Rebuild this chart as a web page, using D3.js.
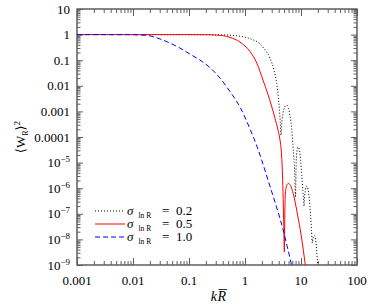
<!DOCTYPE html>
<html>
<head>
<meta charset="utf-8">
<script src="https://cdn.jsdelivr.net/npm/d3@7"></script>
<style>
  body { margin: 0; background: #fff; }
  svg text { font-family: "Liberation Serif", "DejaVu Serif", serif; fill: #000; }
</style>
</head>
<body>
<svg width="390" height="307"></svg>
<script>
// sigma_lnR = 0.2 (dotted)
const kDot = [0.001, 0.1, 0.3, 0.471, 0.663, 0.932, 1.407, 1.853, 2.122, 2.795, 3.295, 3.683, 3.932, 4.098, 4.271, 4.395,
  4.541, 4.771, 5.075, 5.51, 5.98, 6.36, 6.82, 7.14, 7.44, 7.75, 7.98,
  8.21, 8.48, 8.84, 9.32, 9.80, 10.33, 10.77, 11.13, 11.31,
  11.60, 12.03, 12.69, 13.34, 14.07, 14.78, 15.40, 15.91,
  16.38, 17.28, 18.15, 18.92, 19.47, 19.95];
const wDot = [1, 0.998, 0.982, 0.96, 0.915, 0.82, 0.62, 0.44, 0.31, 0.12, 0.041, 0.0124, 0.00372, 0.00135, 3.49e-4, 1.19e-4,
  3.82e-4, 8.6e-4, 1.41e-3, 1.76e-3, 1.35e-3, 6.55e-4, 2.04e-4, 5.78e-5, 1.64e-5, 3.25e-6, 4.5e-7,
  1.05e-5, 2.81e-5, 4.03e-5, 3.36e-5, 1.37e-5, 3.25e-6, 8.4e-7, 3.43e-7, 2.0e-7,
  4.9e-7, 9.2e-7, 1.21e-6, 9.2e-7, 3.75e-7, 9.7e-8, 2.31e-8, 7.2e-9,
  1.12e-8, 1.41e-8, 1.03e-8, 4.6e-9, 1.86e-9, 7.6e-10];

// sigma_lnR = 0.5 (solid red)
const kRed = [0.001, 0.1, 0.2, 0.316, 0.54, 0.815, 1.23, 1.64, 2.096, 2.58, 2.91, 3.43, 3.885, 4.22, 4.43, 4.58, 4.71, 4.83, 4.93, 5.04,
  5.14, 5.24, 5.40, 5.55, 5.99, 6.63, 7.59, 8.73, 10.0, 11.0, 12.0];
const wRed = [1, 0.997, 0.99, 0.956, 0.778, 0.509, 0.217, 0.0736, 0.0167, 0.00453, 0.00193, 5.47e-4, 1.86e-4, 7.57e-5, 3.08e-5, 9.5e-6, 2.07e-6, 2.19e-7, 3.6e-8, 3.2e-9,
  8.9e-8, 5.9e-7, 1.0e-6, 1.32e-6, 1.54e-6, 1.15e-6, 4.1e-7, 8.5e-8, 1.6e-8, 3.8e-9, 9e-10];

// sigma_lnR = 1.0 (dashed blue)
const kBlue = [0.001, 0.00883, 0.0133, 0.0201, 0.0303, 0.0458, 0.069, 0.104, 0.157, 0.237, 0.358, 0.540, 0.815, 1.23, 1.64,
  2.01, 2.58, 3.43, 4.22, 4.97, 5.62, 6.36, 6.9];
const wBlue = [1, 0.995, 0.97, 0.89, 0.679, 0.466, 0.297, 0.173, 0.101, 0.0514, 0.02, 0.00593, 0.00147, 2.04e-4, 4.22e-5,
  1.15e-5, 2.07e-6, 2.86e-7, 6.5e-8, 1.76e-8, 5.7e-9, 1.86e-9, 8.3e-10];

const xTicks = [0.001, 0.01, 0.1, 1, 10, 100];
const xTickLabels = ["0.001", "0.01", "0.1", "1", "10", "100"];
const yTicks = [1e-9, 1e-8, 1e-7, 1e-6, 1e-5, 1e-4, 0.001, 0.01, 0.1, 1, 10];
const yTickLabels = ["10^−9", "10^−8", "10^−7", "10^−6", "10^−5", "0.0001", "0.001", "0.01", "0.1", "1", "10"];
const legendValues = ["0.2", "0.5", "1.0"];

// Plot sizes
const W = 390, H = 307;
const margin = { l: 77, r: 33, t: 9, b: 42 };
const axisColor = "#5e5e5e";

const svg = d3.select("svg");

const x = d3.scaleLog().domain([0.001, 100]).range([margin.l, W - margin.r]);
const y = d3.scaleLog().domain([1e-9, 10]).range([H - margin.b, margin.t]);

const minorsOf = majors => majors.slice(0, -1).flatMap(d => d3.range(2, 10).map(m => d * m));

// ticks on all four sides, pointing inward
function ticks(axisFn, scale, translate, majors, majorLen, minorLen) {
  const g = svg.append("g").attr("transform", `translate(${translate})`);
  g.append("g").call(axisFn(scale).tickValues(minorsOf(majors)).tickSize(minorLen).tickFormat(""));
  g.append("g").call(axisFn(scale).tickValues(majors).tickSize(majorLen).tickFormat(""));
  g.selectAll(".domain").remove();
  g.selectAll("line").attr("stroke", axisColor).attr("stroke-width", 1);
}
const x0 = margin.l, x1 = W - margin.r, y0 = margin.t, y1 = H - margin.b;
ticks(d3.axisTop, x, `0,${y1}`, xTicks, 7, 4);
ticks(d3.axisBottom, x, `0,${y0}`, xTicks, 7, 4);
ticks(d3.axisRight, y, `${x0},0`, yTicks, 6, 3.5);
ticks(d3.axisLeft, y, `${x1},0`, yTicks, 6, 3.5);

svg.append("rect")
  .attr("x", x0).attr("y", y0)
  .attr("width", x1 - x0).attr("height", y1 - y0)
  .attr("fill", "none").attr("stroke", axisColor).attr("stroke-width", 1.5);

// tick labels
svg.append("g").selectAll("text")
  .data(xTicks)
  .enter()
  .append("text")
    .attr("x", d => x(d))
    .attr("y", 285)
    .attr("text-anchor", "middle")
    .attr("font-size", 13)
    .text((d, i) => xTickLabels[i]);

svg.append("g").selectAll("text")
  .data(yTicks)
  .enter()
  .append("text")
    .attr("x", 70)
    .attr("y", d => y(d) + 4.5)
    .attr("text-anchor", "end")
    .attr("font-size", 13)
    .each(function(d, i) {
      const parts = yTickLabels[i].split("^");
      const t = d3.select(this);
      t.append("tspan").text(parts[0]);
      if (parts[1]) t.append("tspan").attr("font-size", 9).attr("dy", -5).text(parts[1]);
    });

// axis titles
const yt = svg.append("text")
  .attr("transform", `translate(25, ${(y0 + y1) / 2}) rotate(-90)`)
  .attr("text-anchor", "middle")
  .attr("font-size", 13);
yt.append("tspan").text("⟨W");
yt.append("tspan").attr("font-size", 8).attr("dy", 3).text("R");
yt.append("tspan").attr("dy", -3).text("⟩");
yt.append("tspan").attr("font-size", 9).attr("dy", -5).text("2");

const xc = (x0 + x1) / 2;
svg.append("text").attr("x", xc).attr("y", 301).attr("text-anchor", "end")
  .attr("font-size", 14).attr("font-style", "italic").text("k");
const rT = svg.append("text").attr("x", xc + 0.5).attr("y", 301)
  .attr("font-size", 14).attr("font-style", "italic").text("R");
const rw = rT.node().getComputedTextLength();
svg.append("line")
  .attr("x1", xc + 1.5).attr("x2", xc + rw + 1.5)
  .attr("y1", 289.5).attr("y2", 289.5)
  .attr("stroke", "#000").attr("stroke-width", 0.8);

// curves
svg.append("clipPath").attr("id", "plot")
  .append("rect").attr("x", x0).attr("y", y0).attr("width", x1 - x0).attr("height", y1 - y0);

const line = d3.line()
  .x(d => x(d[0]))
  .y(d => y(d[1]))
  .curve(d3.curveMonotoneX);

const series = [
  { k: kDot, w: wDot, color: "#000", dash: "1,2" },
  { k: kRed, w: wRed, color: "#f00", dash: null },
  { k: kBlue, w: wBlue, color: "#00f", dash: "5,3" }
];

svg.append("g").attr("clip-path", "url(#plot)")
  .selectAll("path")
  .data(series)
  .enter()
  .append("path")
    .attr("d", s => line(s.k.map((k, i) => [k, s.w[i]])))
    .attr("fill", "none")
    .attr("stroke", s => s.color)
    .attr("stroke-width", 1)
    .attr("stroke-dasharray", s => s.dash);

// legend
const legendY = [211, 224, 237];
const lg = svg.append("g");
series.forEach((s, i) => {
  const ly = legendY[i];
  lg.append("line")
    .attr("x1", 95).attr("x2", 125)
    .attr("y1", ly).attr("y2", ly)
    .attr("stroke", s.color).attr("stroke-width", 1)
    .attr("stroke-dasharray", s.dash);
  lg.append("text").attr("x", 127).attr("y", ly + 3.5).attr("font-size", 13)
    .attr("font-style", "italic").text("σ");
  lg.append("text").attr("x", 138.5).attr("y", ly + 6.5).attr("font-size", 7.5).text("ln R");
  lg.append("text").attr("x", 162).attr("y", ly + 3.5).attr("font-size", 13).text("=");
  lg.append("text").attr("x", 176).attr("y", ly + 3.5).attr("font-size", 13).text(legendValues[i]);
});
</script>
</body>
</html>
